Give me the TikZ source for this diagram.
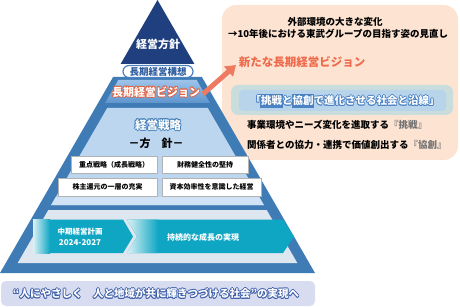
\documentclass[tikz,border=0pt]{standalone}
\usepackage{fontspec}
\setmainfont{Noto Sans CJK JP}
\usetikzlibrary{arrows.meta,shadows}
\definecolor{navy}{HTML}{1F3F7F}
\definecolor{steel}{HTML}{3F7CB6}
\definecolor{vis}{HTML}{5E95CE}
\definecolor{vistop}{HTML}{9EC3EA}
\definecolor{strat}{HTML}{BDD6EF}
\definecolor{stratlow}{HTML}{D0E2F5}
\definecolor{grayband}{HTML}{DEE6EF}
\definecolor{tealc}{HTML}{0FA6C3}
\definecolor{peach}{HTML}{FDE4D2}
\definecolor{salmon}{HTML}{EF7A62}
\definecolor{redtxt}{HTML}{EE6A4C}
\definecolor{sloganout}{HTML}{C9DDDC}
\definecolor{sloganin}{HTML}{B8D4EA}
\definecolor{hlblue}{HTML}{4A82C3}
\definecolor{barfill}{HTML}{D8DCF0}
\definecolor{barhalo}{HTML}{3C5DA8}
\definecolor{pillblue}{HTML}{2D5D9F}
\definecolor{visred}{HTML}{E2603E}
\newcommand\halotext[5]{%
  \foreach \hx/\hy in {0.75/0,-0.75/0,0/0.75,0/-0.75,0.55/0.55,-0.55/0.55,0.55/-0.55,-0.55/-0.55}{%
    \node[text=#2,font=#4,inner sep=0pt] at ([shift={(\hx,\hy)}]#1) {#5};}%
  \node[text=#3,font=#4,inner sep=0pt] at (#1) {#5};}
\newcommand\hlbox[1]{\sbox0{#1}\rlap{\color{hlblue}\rule[-2.8pt]{\wd0}{12.8pt}}#1}
\begin{document}
\begin{tikzpicture}[x=1pt,y=-1pt,
  stratbox/.style={draw=black!30,fill=white,line width=0.6pt,inner sep=0pt,
    minimum height=17pt,font=\bfseries\fontsize{7}{8}\selectfont,
    drop shadow={shadow xshift=1pt,shadow yshift=-1pt,fill=black!35}},
  bodytxt/.style={font=\bfseries\fontsize{9.5}{11}\selectfont,inner sep=0pt},
  arrtxt/.style={text=white,font=\bfseries\fontsize{7.5}{9}\selectfont,inner sep=0pt}]
\useasboundingbox (0,0) rectangle (460,307);
% right panel
\node[fill=peach,rounded corners=14pt,minimum width=236pt,minimum height=155pt,inner sep=0pt] (peach) at (340,82.5) {};
\node[bodytxt] (ext1) at (335,22) {外部環境の大きな変化};
\node[bodytxt] (ext2) at (338,34) {→10年後における東武グループの目指す姿の見直し};
\node[text=redtxt,font=\bfseries\fontsize{11.5}{13}\selectfont,inner sep=0pt] (newvis) at (302,62) {新たな長期経営ビジョン};
\node[fill=sloganout,rounded corners=7pt,minimum width=222pt,minimum height=30pt,inner sep=0pt] (sloganbg) at (342,100) {};
\node[fill=sloganin,rounded corners=4pt,minimum width=207pt,minimum height=21pt,inner sep=0pt] (sloganin) at (342.5,100.5) {};
\coordinate (sloganpos) at (345,101);
\halotext{sloganpos}{hlblue}{white}{\bfseries\fontsize{10.5}{12}\selectfont}{「\hlbox{挑戦}と\hlbox{協創}で進化させる社会と沿線」}
\node[bodytxt,anchor=west] (chal) at (247,125) {事業環境やニーズ変化を進取する\textcolor{black!55}{『挑戦』}};
\node[bodytxt,anchor=west] (cocr) at (247,145) {関係者との協力・連携で価値創出する\textcolor{black!55}{『協創』}};
% pyramid
\fill[navy] (157.5,0) -- (194.4,64) -- (120.6,64) -- cycle;
\node[text=white,font=\bfseries\fontsize{11}{13}\selectfont,inner sep=0pt] (policy) at (158,44) {経営方針};
\fill[steel] (113.1,77) -- (201.9,77) -- (315,273) -- (0,273) -- cycle;
\shade[top color=vistop,bottom color=vis] (118.3,80) -- (196.7,80) -- (209.9,103) -- (105.1,103) -- cycle;
\fill[strat] (107.2,108) -- (207.8,108) -- (263.8,205) -- (51.2,205) -- cycle;
\fill[stratlow] (55.8,197) -- (259.2,197) -- (263.8,205) -- (51.2,205) -- cycle;
\fill[grayband] (48.3,210) -- (266.7,210) -- (297.3,263) -- (17.7,263) -- cycle;
\node[fill=white,draw=hlblue,line width=1.2pt,rounded corners=6pt,minimum width=70pt,minimum height=12pt,inner sep=0pt,text=pillblue,font=\bfseries\fontsize{9.5}{11}\selectfont] (pill) at (158,71.5) {長期経営構想};
\coordinate (vispos) at (156,92);
\halotext{vispos}{visred}{white}{\bfseries\fontsize{11}{13}\selectfont}{長期経営ビジョン}
\coordinate (stratpos) at (158,125);
\halotext{stratpos}{steel}{white}{\bfseries\fontsize{11.5}{13}\selectfont}{経営戦略}
\node[font=\bfseries\fontsize{11}{13}\selectfont,inner sep=0pt] (hoshin) at (156,143) {－方　針－};
\node[stratbox,minimum width=86pt] (b1) at (114,164.5) {重点戦略（成長戦略）};
\node[stratbox,minimum width=86pt] (b2) at (205,164.5) {財務健全性の堅持};
\node[stratbox,minimum width=99pt,minimum height=18pt] (b3) at (107.5,187) {株主還元の一層の充実};
\node[stratbox,minimum width=99pt,minimum height=18pt] (b4) at (211.5,187) {資本効率性を意識した経営};
% plan arrows
\fill[tealc] (127,219.5) -- (283,219.5) -- (294,236.5) -- (283,253) -- (127,253) -- (137,236.5) -- cycle;
\begin{scope}
\clip (127,219.5) -- (283,219.5) -- (294,236.5) -- (283,253) -- (127,253) -- (137,236.5) -- cycle;
\shade[left color=white!85!tealc,right color=tealc] (127,219) rectangle (158,254);
\end{scope}
\fill[tealc] (33,219.5) -- (123,219.5) -- (133,236.5) -- (123,253) -- (33,253) -- cycle;
\shade[left color=white!85!tealc,right color=tealc] (33,219.5) rectangle (50,253);
\node[arrtxt] (mtp1) at (80,231.5) {中期経営計画};
\node[arrtxt,font=\bfseries\fontsize{8}{9}\selectfont] (mtp2) at (80,242.5) {2024-2027};
\node[arrtxt,font=\bfseries\fontsize{8}{9}\selectfont] (growth) at (203,237) {持続的な成長の実現};
% bottom bar
\node[fill=barfill,rounded corners=5pt,minimum width=314pt,minimum height=25pt,inner sep=0pt] (bar) at (158,293.5) {};
\coordinate (barpos) at (156,293.5);
\halotext{barpos}{barhalo}{white}{\bfseries\fontsize{10.5}{12}\selectfont}{“人にやさしく　人と地域が共に輝きつづける社会”の実現へ}
% link arrow
\coordinate (arrfrom) at (203,94);
\coordinate (arrto) at (236,65);
\draw[salmon,line width=5pt,-{Triangle[width=13pt,length=10pt]}] (arrfrom) -- (arrto);
\end{tikzpicture}
\end{document}
